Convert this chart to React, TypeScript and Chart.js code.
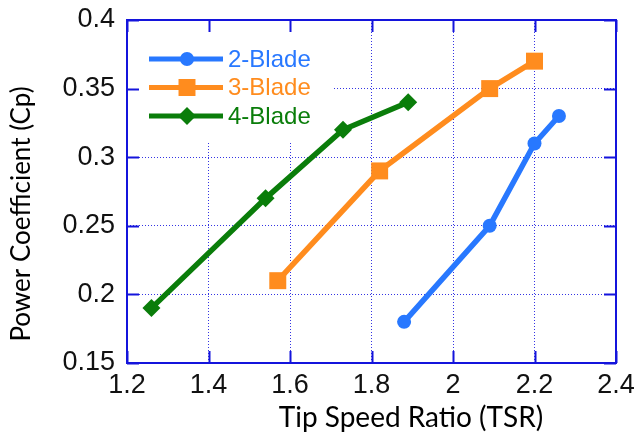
import React, { useEffect, useRef } from 'react';
import { Chart, registerables } from 'chart.js';

Chart.register(...registerables);

// ---- data ----
const seriesNames = ['2-Blade', '3-Blade', '4-Blade'];
const seriesColors = ['#2878ff', '#ff8c1e', '#0a7d0a'];
const tsr2 = [1.88, 2.09, 2.2, 2.26];
const cp2 = [0.18, 0.25, 0.31, 0.33];
const tsr3 = [1.57, 1.82, 2.09, 2.2];
const cp3 = [0.21, 0.29, 0.35, 0.37];
const tsr4 = [1.26, 1.54, 1.73, 1.89];
const cp4 = [0.19, 0.27, 0.32, 0.34];
const xTicks = [1.2, 1.4, 1.6, 1.8, 2.0, 2.2, 2.4];
const xTickLabels = ['1.2', '1.4', '1.6', '1.8', '2', '2.2', '2.4'];
const yTicks = [0.15, 0.2, 0.25, 0.3, 0.35, 0.4];
const yTickLabels = ['0.15', '0.2', '0.25', '0.3', '0.35', '0.4'];
const xTitle = 'Tip Speed Ratio (TSR)';
const yTitle = 'Power Coefficient (Cp)';

const AXIS_BLUE = '#1414dc';
const GRID_BLUE = '#3434e4';
const TICK_FONT = '"Liberation Sans", Arial, sans-serif';
const TITLE_FONT = 'Lato, "Open Sans", sans-serif';

function drawMarker(ctx: CanvasRenderingContext2D, kind: string, x: number, y: number, r: number) {
  ctx.beginPath();
  if (kind === 'circle') {
    ctx.arc(x, y, r, 0, Math.PI * 2);
  } else if (kind === 'rect') {
    const s = r * Math.SQRT1_2;
    ctx.rect(x - s, y - s, 2 * s, 2 * s);
  } else {
    ctx.moveTo(x, y - r);
    ctx.lineTo(x + r, y);
    ctx.lineTo(x, y + r);
    ctx.lineTo(x - r, y);
    ctx.closePath();
  }
  ctx.fill();
}

const pointStyles = ['circle', 'rect', 'rectRot'];
const pointRadii = [7, 12, 9];

const framePlugin = {
  id: 'frame',
  beforeDatasetsDraw(chart: any) {
    const { ctx, chartArea: a } = chart;
    ctx.save();
    ctx.fillStyle = '#ffffff';
    ctx.fillRect(a.left + 1, a.top + 1, 204, 120);
    ctx.restore();
  },
  afterDatasetsDraw(chart: any) {
    const { ctx, chartArea: a, scales } = chart;
    ctx.save();
    ctx.strokeStyle = AXIS_BLUE;
    ctx.lineWidth = 2;
    ctx.strokeRect(a.left, a.top, a.right - a.left, a.bottom - a.top);
    const tl = 12;
    ctx.beginPath();
    xTicks.forEach((v) => {
      const x = Math.round(scales.x.getPixelForValue(v)) + 0.5;
      ctx.moveTo(x, a.bottom);
      ctx.lineTo(x, a.bottom - tl);
      ctx.moveTo(x, a.top);
      ctx.lineTo(x, a.top + tl);
    });
    yTicks.forEach((v) => {
      const y = Math.round(scales.y.getPixelForValue(v)) + 0.5;
      ctx.moveTo(a.left, y);
      ctx.lineTo(a.left + tl, y);
      ctx.moveTo(a.right, y);
      ctx.lineTo(a.right - tl, y);
    });
    ctx.stroke();

    // legend
    const lx0 = a.left + 22;
    const lx1 = a.left + 96;
    const mx = a.left + 60;
    const tx = a.left + 101;
    const ys = [a.top + 39, a.top + 67.5, a.top + 96];
    ctx.font = '24px ' + TICK_FONT;
    ctx.textBaseline = 'middle';
    ctx.textAlign = 'left';
    seriesNames.forEach((name, i) => {
      const c = seriesColors[i];
      ctx.strokeStyle = c;
      ctx.fillStyle = c;
      ctx.lineWidth = 5;
      ctx.beginPath();
      ctx.moveTo(lx0, ys[i]);
      ctx.lineTo(lx1, ys[i]);
      ctx.stroke();
      drawMarker(ctx, pointStyles[i], mx, ys[i], pointRadii[i]);
      ctx.fillText(name, tx, ys[i] + 1);
    });
    ctx.restore();
  },
  afterDraw(chart: any) {
    const { ctx } = chart;
    ctx.save();
    ctx.fillStyle = '#000';
    ctx.textAlign = 'center';
    ctx.textBaseline = 'middle';
    ctx.font = '28px ' + TITLE_FONT;
    ctx.fillText(xTitle, 411, 418);
    ctx.font = '26px ' + TITLE_FONT;
    ctx.translate(22, 214);
    ctx.rotate(-Math.PI / 2);
    ctx.fillText(yTitle, 0, 0);
    ctx.restore();
  },
};

export default function App() {
  const ref = useRef<HTMLCanvasElement | null>(null);

  useEffect(() => {
    if (!ref.current) return;
    const xs = [tsr2, tsr3, tsr4];
    const ys = [cp2, cp3, cp4];
    const chart = new Chart(ref.current, {
      type: 'line',
      data: {
        datasets: seriesNames.map((name, i) => ({
          label: name,
          data: xs[i].map((x, j) => ({ x, y: ys[i][j] })),
          borderColor: seriesColors[i],
          backgroundColor: seriesColors[i],
          borderWidth: 5.5,
          pointStyle: pointStyles[i] as any,
          pointRadius: pointRadii[i],
          pointBorderWidth: 0,
          pointBackgroundColor: seriesColors[i],
          fill: false,
          tension: 0,
        })),
      },
      options: {
        responsive: false,
        animation: false,
        devicePixelRatio: 1,
        layout: { padding: { top: 20, right: 19, left: 0, bottom: 0 } },
        plugins: { legend: { display: false }, tooltip: { enabled: false } },
        scales: {
          x: {
            type: 'linear',
            min: 1.2,
            max: 2.4,
            afterBuildTicks: (s: any) => {
              s.ticks = xTicks.map((v) => ({ value: v }));
            },
            afterFit: (s: any) => {
              s.height = 75;
              s.paddingLeft = 0;
              s.paddingRight = 0;
            },
            ticks: {
              callback: (v: any) => xTickLabels[xTicks.findIndex((t) => Math.abs(t - v) < 1e-6)] ?? '',
              font: { size: 27, family: TICK_FONT },
              color: '#111',
              padding: 6,
              maxRotation: 0,
              autoSkip: false,
            },
            grid: { color: GRID_BLUE, lineWidth: 1, drawTicks: false },
            border: { display: false, dash: [1, 2] },
          },
          y: {
            type: 'linear',
            min: 0.15,
            max: 0.4,
            afterBuildTicks: (s: any) => {
              s.ticks = yTicks.map((v) => ({ value: v }));
            },
            afterFit: (s: any) => {
              s.width = 127;
              s.paddingTop = 0;
              s.paddingBottom = 0;
            },
            ticks: {
              callback: (v: any) => yTickLabels[yTicks.findIndex((t) => Math.abs(t - v) < 1e-6)] ?? '',
              font: { size: 27, family: TICK_FONT },
              color: '#111',
              padding: 12,
              autoSkip: false,
            },
            grid: { color: GRID_BLUE, lineWidth: 1, drawTicks: false },
            border: { display: false, dash: [1, 2] },
          },
        },
      },
      plugins: [framePlugin],
    });
    return () => chart.destroy();
  }, []);

  return (
    <div style={{ position: 'absolute', left: 0, top: 0, width: 635, height: 438, background: '#fff' }}>
      <canvas ref={ref} width={635} height={438} style={{ display: 'block' }} />
    </div>
  );
}
